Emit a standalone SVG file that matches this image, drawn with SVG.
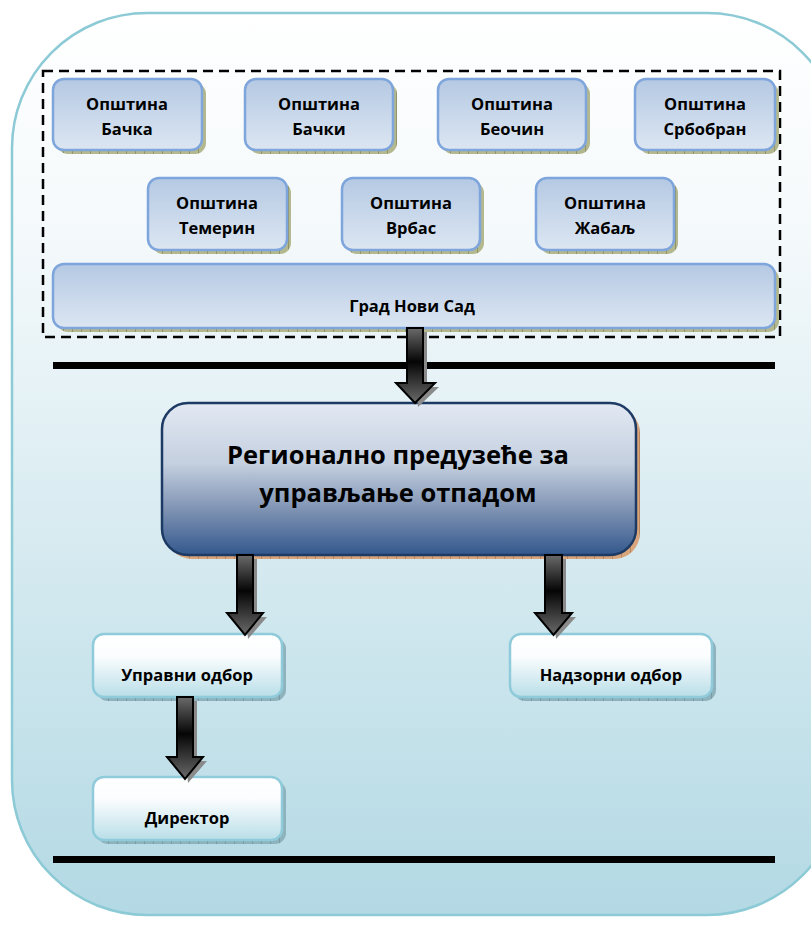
<svg xmlns="http://www.w3.org/2000/svg" width="811" height="928" viewBox="0 0 811 928">
<defs>
<linearGradient id="bg" x1="0" y1="0" x2="0" y2="1">
<stop offset="0" stop-color="#ffffff"/><stop offset="0.25" stop-color="#f4f9fb"/><stop offset="1" stop-color="#b3d9e4"/>
</linearGradient>
<linearGradient id="blueBox" x1="0" y1="0" x2="0" y2="1">
<stop offset="0" stop-color="#b5c9e3"/><stop offset="1" stop-color="#dce6f2"/>
</linearGradient>
<linearGradient id="mainBox" x1="0" y1="0" x2="0" y2="1">
<stop offset="0" stop-color="#e2e9f3"/><stop offset="0.4" stop-color="#c4cfdf"/><stop offset="0.7" stop-color="#7f93b3"/><stop offset="1" stop-color="#33588d"/>
</linearGradient>
<linearGradient id="whiteBox" x1="0" y1="0" x2="0" y2="1">
<stop offset="0" stop-color="#ffffff"/><stop offset="0.35" stop-color="#fbfdfe"/><stop offset="1" stop-color="#b9dee8"/>
</linearGradient>
<linearGradient id="arrowG" x1="0" y1="0" x2="0" y2="1">
<stop offset="0" stop-color="#6a6a6a"/><stop offset="0.45" stop-color="#050505"/><stop offset="1" stop-color="#6a6a6a"/>
</linearGradient>
<pattern id="hatchOlive" width="9" height="6" patternUnits="userSpaceOnUse">
<rect width="9" height="6" fill="#b4b88e"/><path d="M0 0V6" stroke="#6e7048" stroke-width="1"/>
</pattern>
<pattern id="hatchBrown" width="9" height="6" patternUnits="userSpaceOnUse">
<rect width="9" height="6" fill="#d9a57c"/><path d="M0 0V6" stroke="#9c6a45" stroke-width="1"/>
</pattern>
<pattern id="hatchBlue" width="9" height="6" patternUnits="userSpaceOnUse">
<rect width="9" height="6" fill="#8fb3bd"/><path d="M0 0V6" stroke="#5d8390" stroke-width="1"/>
</pattern>
<style>
.t{font-family:"Open Sans","Noto Sans","Liberation Sans",sans-serif;font-weight:bold;fill:#000;text-anchor:middle}
.s{font-size:16.5px}
.b{font-size:25.5px}
.bb{fill:url(#blueBox);stroke:#7ea5dc;stroke-width:2.5}
.bs{fill:url(#hatchOlive)}
.wb{fill:url(#whiteBox);stroke:#8fcbda;stroke-width:2.5}
.ws{fill:url(#hatchBlue)}
.arr{fill:url(#arrowG);stroke:#000;stroke-width:2;stroke-linejoin:miter}
.ash{fill:#8a8a8a}
</style>
</defs>
<rect x="12" y="13" width="830" height="902" rx="135" fill="url(#bg)" stroke="#8ccad6" stroke-width="2.5"/>
<rect x="43" y="71" width="737" height="266" fill="none" stroke="#000" stroke-width="2.5" stroke-dasharray="10,6"/>
<g id="n1"><rect class="bs" x="57" y="83" width="149" height="71" rx="11"/><rect class="bb" x="53" y="79" width="149" height="71" rx="11"/><text class="t s" x="127" y="110">Општина</text><text class="t s" x="127" y="135">Бачка</text></g>
<g id="n2"><rect class="bs" x="249" y="83" width="148" height="71" rx="11"/><rect class="bb" x="245" y="79" width="148" height="71" rx="11"/><text class="t s" x="319" y="110">Општина</text><text class="t s" x="319" y="135">Бачки</text></g>
<g id="n3"><rect class="bs" x="442" y="83" width="148" height="71" rx="11"/><rect class="bb" x="438" y="79" width="148" height="71" rx="11"/><text class="t s" x="512" y="110">Општина</text><text class="t s" x="512" y="135">Беочин</text></g>
<g id="n4"><rect class="bs" x="639" y="83" width="140" height="71" rx="11"/><rect class="bb" x="635" y="79" width="140" height="71" rx="11"/><text class="t s" x="705" y="110">Општина</text><text class="t s" x="705" y="135">Србобран</text></g>
<g id="n5"><rect class="bs" x="152" y="182" width="139" height="72" rx="11"/><rect class="bb" x="148" y="178" width="139" height="72" rx="11"/><text class="t s" x="217" y="209">Општина</text><text class="t s" x="217" y="234">Темерин</text></g>
<g id="n6"><rect class="bs" x="346" y="182" width="138" height="72" rx="11"/><rect class="bb" x="342" y="178" width="138" height="72" rx="11"/><text class="t s" x="411" y="209">Општина</text><text class="t s" x="411" y="234">Врбас</text></g>
<g id="n7"><rect class="bs" x="540" y="182" width="138" height="72" rx="11"/><rect class="bb" x="536" y="178" width="138" height="72" rx="11"/><text class="t s" x="605" y="209">Општина</text><text class="t s" x="605" y="234">Жабаљ</text></g>
<g id="n8"><rect class="bs" x="57" y="268" width="722" height="64" rx="11"/><rect class="bb" x="53" y="264" width="722" height="64" rx="11"/><text class="t s" x="412" y="312">Град Нови Сад</text></g>
<rect x="53" y="362" width="722" height="7" fill="#000"/>
<rect x="53" y="856" width="722" height="7" fill="#000"/>
<g id="n9"><rect x="166" y="407" width="474" height="152" rx="26" fill="url(#hatchBrown)"/><rect x="162" y="403" width="474" height="152" rx="26" fill="url(#mainBox)" stroke="#1c3a63" stroke-width="2.5"/><text class="t b" x="398" y="464">Регионално предузеће за</text><text class="t b" x="398" y="502">управљање отпадом</text></g>
<g id="n10"><rect class="ws" x="97" y="638" width="189" height="63" rx="11"/><rect class="wb" x="93" y="634" width="189" height="63" rx="11"/><text class="t s" x="187" y="681">Управни одбор</text></g>
<g id="n11"><rect class="ws" x="514" y="638" width="202" height="63" rx="11"/><rect class="wb" x="510" y="634" width="202" height="63" rx="11"/><text class="t s" x="611" y="681">Надзорни одбор</text></g>
<g id="n12"><rect class="ws" x="97" y="781" width="189" height="63" rx="11"/><rect class="wb" x="93" y="777" width="189" height="63" rx="11"/><text class="t s" x="187" y="824">Директор</text></g>
<g id="connectors">
<path class="ash" d="M411 332H427V387H439L418 407Z"/>
<path class="arr" d="M407 328H423V383H435L415 403L396 383H407Z"/>
<path class="ash" d="M241 559H257V617H267L248 639Z"/>
<path class="arr" d="M237 555H253V613H263L245 635L227 613H237Z"/>
<path class="ash" d="M549 559H566V617H576L556 639Z"/>
<path class="arr" d="M545 555H562V613H572L553.5 635L535 613H545Z"/>
<path class="ash" d="M181 701H197V761H207L188 783Z"/>
<path class="arr" d="M177 697H193V757H203L185 779L167 757H177Z"/>
</g>
</svg>
